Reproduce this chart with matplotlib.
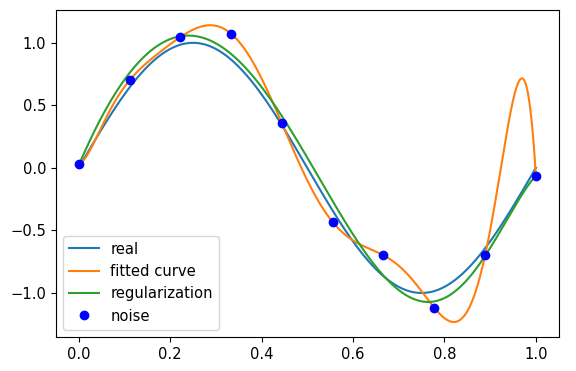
import matplotlib
matplotlib.use('Agg')
import matplotlib.pyplot as plt
import numpy as np

# noisy samples
x_noise = np.linspace(0, 1, 10)
y_noise = [0.032, 0.70, 1.046, 1.073, 0.356, -0.433, -0.699, -1.118, -0.699, -0.061]

M = 9
regularization = 0.0001
x_points = np.linspace(0, 1, 1000)


def fit_poly(x, y, lam=0.0):
    X = np.vander(x, M + 1)
    A = X.T @ X + 0.5 * lam * np.eye(M + 1)
    return np.linalg.solve(A, X.T @ np.asarray(y))


p_fit = fit_poly(x_noise, y_noise)
p_reg = fit_poly(x_noise, y_noise, regularization)

plt.rcParams['font.size'] = 10.6
fig = plt.figure(figsize=(5.76, 3.71), dpi=100)
ax = fig.add_axes([0.097, 0.092, 0.873, 0.88])
ax.plot(x_points, np.sin(2 * np.pi * x_points), label='real')
ax.plot(x_points, np.polyval(p_fit, x_points), label='fitted curve')
ax.plot(x_points, np.polyval(p_reg, x_points), label='regularization')
ax.plot(x_noise, y_noise, 'bo', label='noise')
ax.legend(loc='lower left')
fig.savefig('out.png')
